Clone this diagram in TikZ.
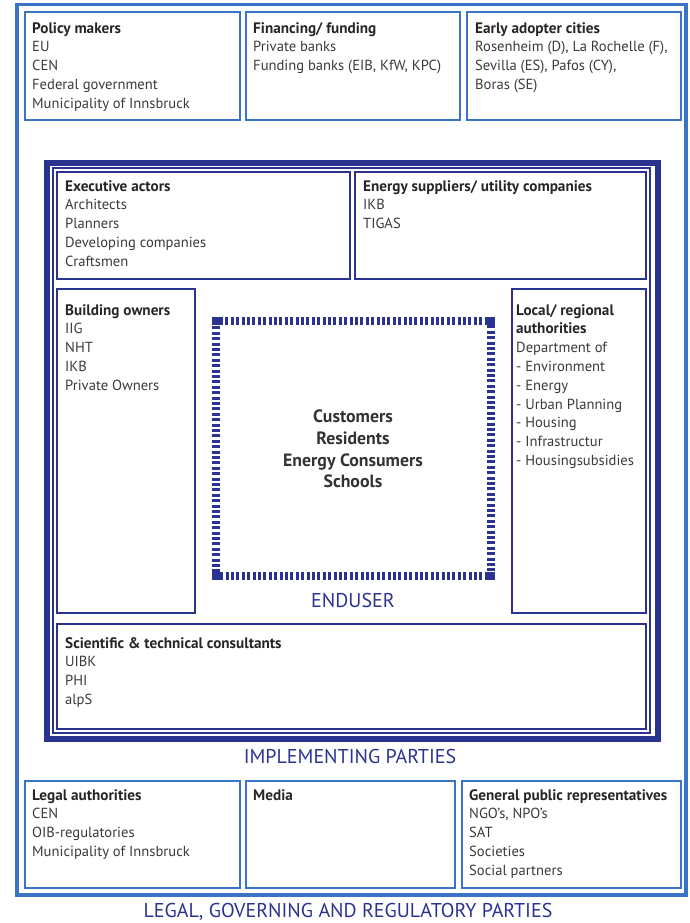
\documentclass[tikz,border=0pt]{standalone}
\usepackage{fontspec}
\setmainfont{PT Sans}
\definecolor{lightblue}{HTML}{3A74C6}
\definecolor{navy}{HTML}{2B3391}
\definecolor{txtgray}{HTML}{3A3A3A}
\tikzset{
  outerbox/.style={draw=lightblue, line width=1.8pt},
  innerbox/.style={draw=navy, line width=1.6pt},
  boxtext/.style={anchor=north west, inner sep=0pt, align=left, text=txtgray,
    font=\fontsize{14.6}{18.8}\selectfont},
  partylabel/.style={text=navy, inner sep=0pt, font=\fontsize{20}{22}\selectfont},
}
\newcommand{\hdr}[1]{{\fontsize{15.2}{18.8}\selectfont\textbf{\textcolor{black!85}{#1}}}}

\begin{document}
\begin{tikzpicture}[x=1pt, y=-1pt]
\useasboundingbox (0,0) rectangle (690,923);

	% legal, governing and regulatory parties
	\draw[lightblue, line width=3.8pt] (17,4.5) rectangle (686,895);
	\draw[outerbox] (25,12) rectangle (240,120);
	\draw[outerbox] (246,12) rectangle (460,120);
	\draw[outerbox] (467,12) rectangle (681,120);
	\node[boxtext] (policy) at (32,22) {\hdr{Policy makers}\\EU\\CEN\\Federal government\\Municipality of Innsbruck};
	\node[boxtext] (funding) at (253,22) {\hdr{Financing/ funding}\\Private banks\\Funding banks (EIB, KfW, KPC)};
	\node[boxtext] (cities) at (475,22) {\hdr{Early adopter cities}\\Rosenheim (D), La Rochelle (F),\\Sevilla (ES), Pafos (CY),\\Boras (SE)};

	% implementing parties
	\draw[navy, line width=6pt] (47,163) rectangle (658,739);
	\draw[navy, line width=1.2pt] (53,168) rectangle (650,733);
	\draw[innerbox] (57,172) rectangle (350,279);
	\draw[innerbox] (355,172) rectangle (646,279);
	\draw[innerbox] (57,289) rectangle (195,613);
	\draw[innerbox] (512,289) rectangle (646,613);
	\draw[innerbox] (57,624) rectangle (646,729);
	\node[boxtext] (executive) at (65,180) {\hdr{Executive actors}\\Architects\\Planners\\Developing companies\\Craftsmen};
	\node[boxtext] (energy) at (363,180) {\hdr{Energy suppliers/ utility companies}\\IKB\\TIGAS};
	\node[boxtext] (owners) at (65,304) {\hdr{Building owners}\\IIG\\NHT\\IKB\\Private Owners};
	\node[boxtext] (local) at (516,304) {\hdr{Local/ regional}\\\hdr{authorities}\\Department of\\- Environment\\- Energy\\- Urban Planning\\- Housing\\- Infrastructur\\- Housingsubsidies};
	\node[boxtext] (science) at (65,637) {\hdr{Scientific \& technical consultants}\\UIBK\\PHI\\alpS};

	% enduser
	\draw[navy, line width=8pt, dash pattern=on 3pt off 2.4pt] (216,321) rectangle (491,576);
	\foreach \cx/\cy in {216/321, 491/321, 216/576, 491/576}
		\fill[navy] (\cx-4,\cy-4) rectangle (\cx+4,\cy+4);
	\node[align=center, inner sep=0pt, text=black!80, font=\bfseries\fontsize{17.8}{21.8}\selectfont] (customers) at (353,449) {Customers\\Residents\\Energy Consumers\\Schools};
	\node[partylabel] (enduser) at (353,600) {ENDUSER};
	\node[partylabel] (implementing) at (350,756) {IMPLEMENTING PARTIES};

	% bottom row
	\draw[outerbox] (25,781) rectangle (240,888);
	\draw[outerbox] (246,781) rectangle (455,888);
	\draw[outerbox] (462,781) rectangle (681,888);
	\node[boxtext] (legal) at (32,789) {\hdr{Legal authorities}\\CEN\\OIB-regulatories\\Municipality of Innsbruck};
	\node[boxtext] (media) at (253,789) {\hdr{Media}};
	\node[boxtext] (public) at (469,789) {\hdr{General public representatives}\\NGO’s, NPO’s\\SAT\\Societies\\Social partners};
	\node[partylabel] (legalparties) at (348,912) {LEGAL, GOVERNING AND REGULATORY PARTIES};
\end{tikzpicture}
\end{document}
